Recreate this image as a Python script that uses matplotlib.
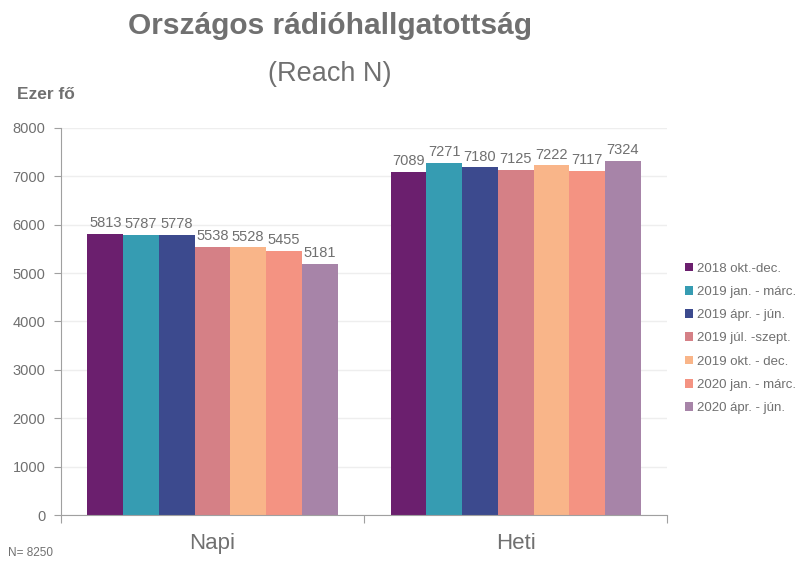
import matplotlib.pyplot as plt
import numpy as np

plt.rcParams['font.family'] = ['Liberation Sans', 'DejaVu Sans']

categories = ['Napi', 'Heti']
periods = ['2018 okt.-dec.', '2019 jan. - márc.', '2019 ápr. - jún.',
           '2019 júl. -szept.', '2019 okt. - dec.', '2020 jan. - márc.',
           '2020 ápr. - jún.']
values = [
    [5813, 7089],
    [5787, 7271],
    [5778, 7180],
    [5538, 7125],
    [5528, 7222],
    [5455, 7117],
    [5181, 7324],
]
colors = ['#6B1F6E', '#369CB2', '#3C4A8E', '#D58086', '#F9B589', '#F49382', '#A784A8']

gray = '#707070'
fig = plt.figure(figsize=(8.01, 5.62), dpi=100)
ax = fig.add_axes([0.076, 0.0836, 0.757, 0.689])

x = np.arange(len(categories))
n = len(periods)
group_w = 0.825
w = group_w / n
for i, (p, vals, c) in enumerate(zip(periods, values, colors)):
    pos = x - group_w / 2 + w * (i + 0.5)
    ax.bar(pos, vals, width=w, color=c, label=p, zorder=2)
    for xp, v in zip(pos, vals):
        ax.text(xp, v + 80, str(v), ha='center', va='bottom', fontsize=10.5, color=gray)

ax.set_xlim(-0.5, 1.5)
ax.set_ylim(0, 8000)
ax.set_yticks(range(0, 8001, 1000))
ax.set_xticks([-0.5, 0.5, 1.5])
ax.set_xticklabels([])
ax.set_xticks(x, minor=True)
ax.set_xticklabels(categories, minor=True, fontsize=16, color=gray)
ax.tick_params(axis='x', which='minor', length=0, pad=13)
ax.tick_params(axis='x', which='major', length=6, color='#A0A0A0')
ax.tick_params(axis='y', length=5, color='#A0A0A0', labelsize=10.5, labelcolor=gray, pad=6)
ax.grid(axis='y', color='#EEEEEE', linewidth=1, zorder=0)
for s in ['top', 'right']:
    ax.spines[s].set_visible(False)
for s in ['left', 'bottom']:
    ax.spines[s].set_color('#A0A0A0')

fig.text(0.412, 0.953, 'Országos rádióhallgatottság', ha='center', va='center',
         fontsize=21.5, fontweight='bold', color=gray)
fig.text(0.412, 0.868, '(Reach N)', ha='center', va='center', fontsize=19.5, color=gray)
fig.text(0.021, 0.832, 'Ezer fő', ha='left', va='center', fontsize=12.5, fontweight='bold', color=gray)
fig.text(0.01, 0.016, 'N= 8250', ha='left', va='center', fontsize=8.5, color=gray)

leg = fig.legend(loc='center left', bbox_to_anchor=(0.84, 0.398), frameon=False,
                 fontsize=9.5, handlelength=0.65, handleheight=0.65, handletextpad=0.3,
                 labelspacing=0.85, labelcolor=gray)

fig.savefig('out.png', dpi=100)
